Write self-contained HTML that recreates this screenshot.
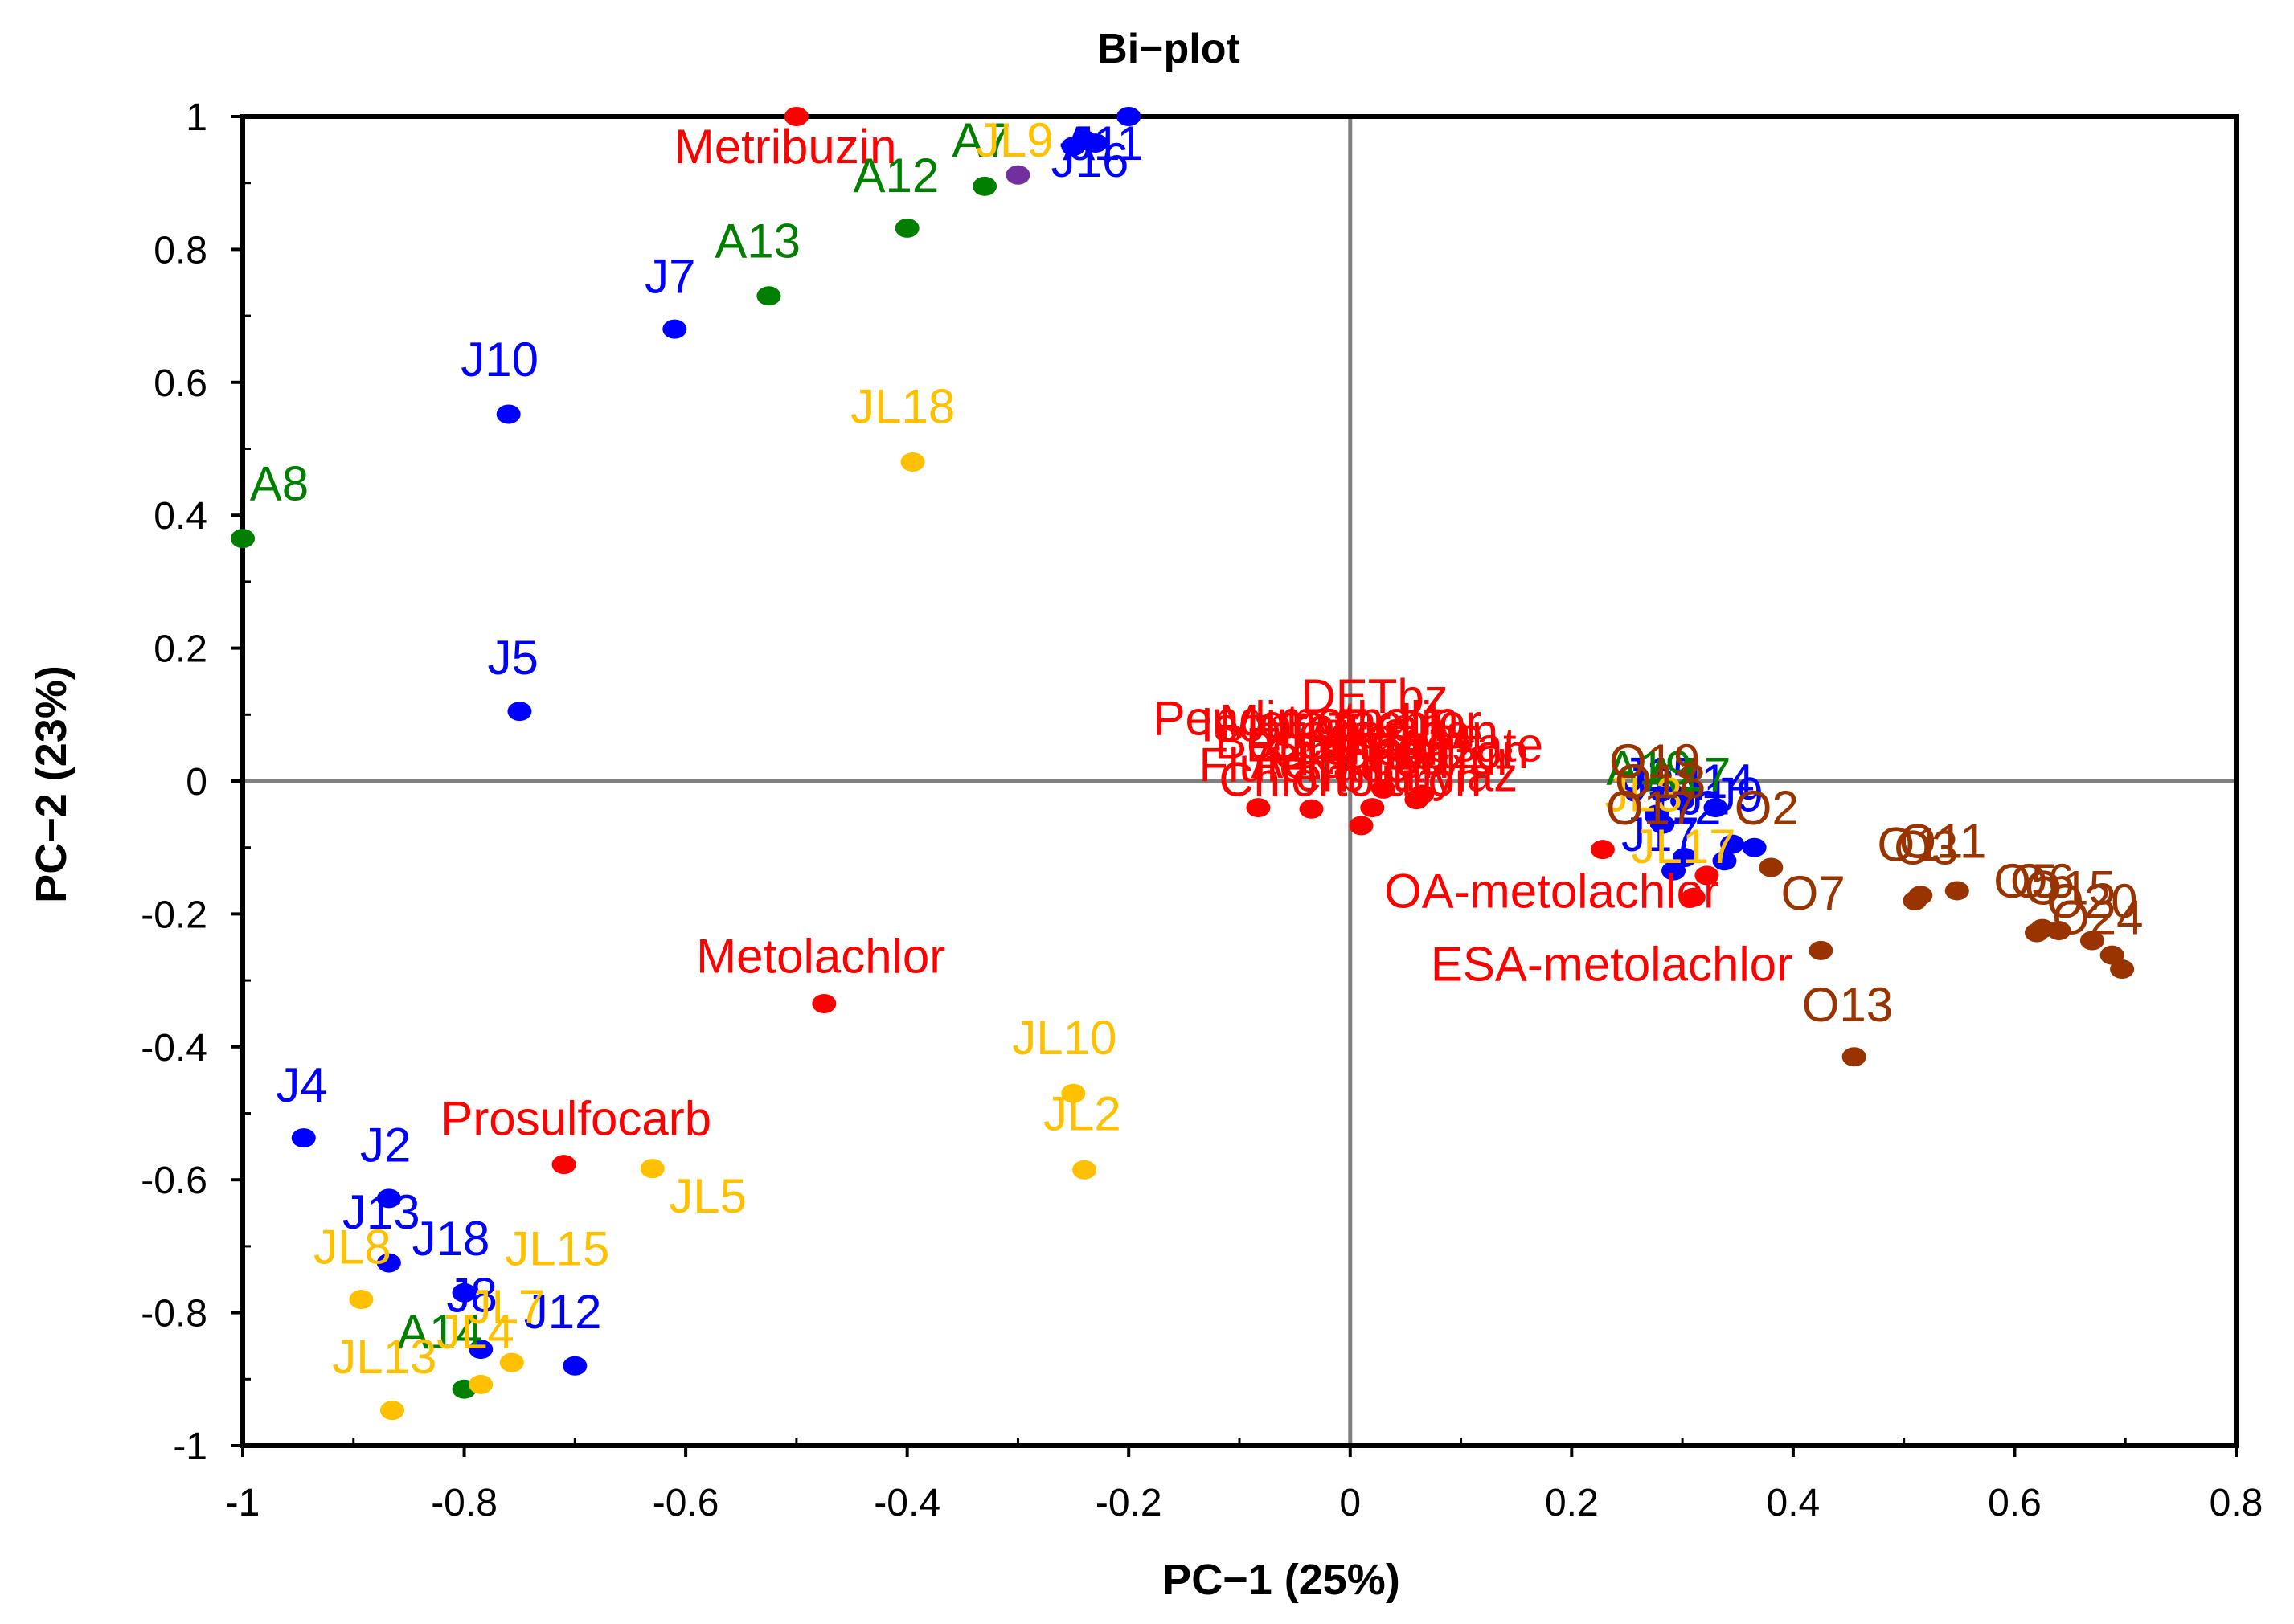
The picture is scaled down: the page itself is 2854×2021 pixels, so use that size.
<!DOCTYPE html>
<html><head><meta charset="utf-8"><style>
html,body{margin:0;padding:0;background:#fff;}
svg{display:block;font-family:"Liberation Sans",sans-serif;}
</style></head><body>
<svg id="chart" width="2854" height="2021" viewBox="0 0 2854 2021" xmlns="http://www.w3.org/2000/svg">
<text x="1454" y="78" text-anchor="middle" font-size="52" font-weight="bold">Bi−plot</text>
<text x="1594" y="1984" text-anchor="middle" font-size="54" font-weight="bold">PC−1 (25%)</text>
<text transform="translate(82,976) rotate(-90)" text-anchor="middle" font-size="54" font-weight="bold">PC−2 (23%)</text>
<g id="axes"></g>
<g id="marks"></g>
<g id="labels"></g>
</svg>
<script>
const xTicks=[-1,-0.8,-0.6,-0.4,-0.2,0,0.2,0.4,0.6,0.8];
const yTicks=[-1,-0.8,-0.6,-0.4,-0.2,0,0.2,0.4,0.6,0.8,1];
const colors={red:'#ff0000',blue:'#0000ff',green:'#007f00',yellow:'#ffc000',brown:'#993300',purple:'#7030a0'};
const redPts=[[-0.5,1.0],[-0.475,-0.335],[-0.71,-0.577],[-0.083,-0.04],[-0.035,-0.042],[0.02,-0.04],[0.01,-0.067],[0.06,-0.028],[0.065,-0.02],[0.03,-0.012],[0.228,-0.103],[0.322,-0.142],[0.31,-0.175]];
const bluePts=[[-0.2,1.0],[-0.24,0.965],[-0.23,0.96],[-0.25,0.955],[-0.61,0.68],[-0.76,0.552],[-0.75,0.105],[-0.945,-0.537],[-0.868,-0.628],[-0.868,-0.725],[-0.8,-0.77],[-0.785,-0.855],[-0.7,-0.88],[0.277,-0.05],[0.282,-0.065],[0.302,-0.115],[0.292,-0.135],[0.338,-0.12],[0.345,-0.095],[0.365,-0.1],[0.3,-0.03],[0.33,-0.04]];
const greenPts=[[-1.0,0.365],[-0.525,0.73],[-0.4,0.832],[-0.33,0.895],[-0.8,-0.915]];
const yellowPts=[[-0.395,0.48],[-0.25,-0.47],[-0.24,-0.585],[-0.63,-0.583],[-0.757,-0.875],[-0.893,-0.78],[-0.865,-0.947],[-0.785,-0.908]];
const purplePts=[[-0.3,0.912]];
const brownPts=[[0.38,-0.13],[0.425,-0.255],[0.455,-0.415],[0.51,-0.18],[0.515,-0.172],[0.548,-0.165],[0.62,-0.228],[0.625,-0.222],[0.64,-0.225],[0.67,-0.24],[0.688,-0.262],[0.697,-0.283]];
const redLabels=[[-0.51,0.955,'Metribuzin'],[-0.478,-0.263,'Metolachlor'],[-0.699,-0.507,'Prosulfocarb'],[0.182,-0.165,'OA-metolachlor'],[0.236,-0.275,'ESA-metolachlor'],[0.022,0.128,'DETbz'],[-0.04,0.095,'Pendimethalin'],[-0.025,0.085,'Isoproturon'],[0.0,0.09,'Metazachlor'],[0.02,0.075,'Diflufenican'],[0.04,0.055,'Ethofumesate'],[0.045,0.045,'Chloridazon'],[0.05,0.035,'Nicosulfur'],[-0.035,0.025,'Flufenacet'],[0.0,0.03,'Aclonifen'],[0.0,0.003,'Chlortoluron'],[0.04,0.01,'Terbuthylaz'],[0.04,0.07,'Atrazine'],[-0.04,0.06,'Boscalid'],[0.02,0.05,'Lenacil']];
const blueLabels=[[-0.22,0.96,'J11'],[-0.245,0.96,'A'],[-0.235,0.935,'J16'],[-0.614,0.76,'J7'],[-0.768,0.635,'J10'],[-0.756,0.186,'J5'],[-0.947,-0.457,'J4'],[-0.871,-0.547,'J2'],[-0.875,-0.648,'J13'],[-0.812,-0.688,'J18'],[-0.793,-0.773,'J8'],[-0.711,-0.798,'J12'],[0.27,-0.005,'J3'],[0.28,0.01,'J15'],[0.33,0.0,'J14'],[0.35,-0.02,'J9'],[0.32,-0.025,'J1'],[0.3,-0.04,'J12'],[0.28,-0.08,'J17']];
const greenLabels=[[-0.967,0.448,'A8'],[-0.535,0.813,'A13'],[-0.41,0.912,'A12'],[-0.333,0.965,'A7'],[-0.822,-0.828,'A14'],[0.27,0.02,'A19'],[0.305,0.01,'A17']];
const yellowLabels=[[-0.303,0.965,'JL9'],[-0.404,0.564,'JL18'],[-0.258,-0.386,'JL10'],[-0.242,-0.5,'JL2'],[-0.58,-0.624,'JL5'],[-0.716,-0.703,'JL15'],[-0.762,-0.791,'JL7'],[-0.901,-0.701,'JL8'],[-0.872,-0.866,'JL13'],[-0.79,-0.828,'JL4'],[0.301,-0.098,'JL17'],[0.265,-0.02,'JL3']];
const brownLabels=[[0.418,-0.168,'O7'],[0.449,-0.336,'O13'],[0.376,-0.04,'O2'],[0.275,0.03,'O19'],[0.28,0.0,'O18'],[0.272,-0.04,'O17'],[0.505,-0.095,'O1'],[0.535,-0.09,'O11'],[0.52,-0.1,'O3'],[0.61,-0.15,'O5'],[0.625,-0.15,'O6'],[0.65,-0.16,'O15'],[0.67,-0.18,'O20'],[0.675,-0.205,'O24']];

const L=302,R=2782,T=145,B=1799;
const xs=v=>L+(v+1)/1.8*(R-L);
const ys=v=>T+(1-v)/2*(B-T);
const NS='http://www.w3.org/2000/svg';
const axes=document.getElementById('axes'),marks=document.getElementById('marks'),labs=document.getElementById('labels');
function mk(tag,attrs,parent){const e=document.createElementNS(NS,tag);for(const k in attrs)e.setAttribute(k,attrs[k]);parent.appendChild(e);return e;}

let zx=mk('line',{x1:xs(0),x2:xs(0),y1:T,y2:B,stroke:'#808080','stroke-width':5},axes);


let zy=mk('line',{x1:L,x2:R,y1:ys(0),y2:ys(0),stroke:'#808080','stroke-width':5},axes);


let fr=mk('rect',{x:L,y:T,width:R-L,height:B-T,fill:'none',stroke:'#000','stroke-width':6},axes);


for(let i=0;i<xTicks.length;i++){
  const v=xTicks[i];
  mk('line',{x1:xs(v),x2:xs(v),y1:B,y2:B+14,stroke:'#000','stroke-width':4},axes);
  if(i<xTicks.length-1) mk('line',{x1:xs(v+0.1),x2:xs(v+0.1),y1:B,y2:B-10,stroke:'#000','stroke-width':3},axes);
  const t=mk('text',{x:xs(v),y:1886,'text-anchor':'middle','font-size':48},axes);
  t.textContent=String(v);
  
  
}
for(let i=0;i<yTicks.length;i++){
  const v=yTicks[i];
  mk('line',{x1:L-14,x2:L,y1:ys(v),y2:ys(v),stroke:'#000','stroke-width':4},axes);
  if(i<yTicks.length-1) mk('line',{x1:L,x2:L+10,y1:ys(v+0.1),y2:ys(v+0.1),stroke:'#000','stroke-width':3},axes);
  const t=mk('text',{x:258,y:ys(v)+17,'text-anchor':'end','font-size':48},axes);
  t.textContent=String(v);
  
  
}
function drawPts(arr,col,name){
  for(const p of arr){
    const e=mk('ellipse',{cx:xs(p[0]),cy:ys(p[1]),rx:15,ry:12,fill:colors[col]},marks);
    
    
  }
}
function drawLabels(arr,col,name){
  for(const p of arr){
    const t=mk('text',{x:xs(p[0]),y:ys(p[1])+21,'text-anchor':'middle','font-size':60,fill:colors[col]},labs);
    t.textContent=p[2];
    
    
  }
}
drawPts(redPts,'red','pesticide-point');
drawPts(bluePts,'blue','j-site-point');
drawPts(greenPts,'green','a-site-point');
drawPts(yellowPts,'yellow','jl-site-point');
drawPts(purplePts,'purple','purple-point');
drawPts(brownPts,'brown','o-site-point');
drawLabels(redLabels,'red','pesticide-label');
drawLabels(blueLabels,'blue','j-site-label');
drawLabels(greenLabels,'green','a-site-label');
drawLabels(yellowLabels,'yellow','jl-site-label');
drawLabels(brownLabels,'brown','o-site-label');
</script>
</body></html>
